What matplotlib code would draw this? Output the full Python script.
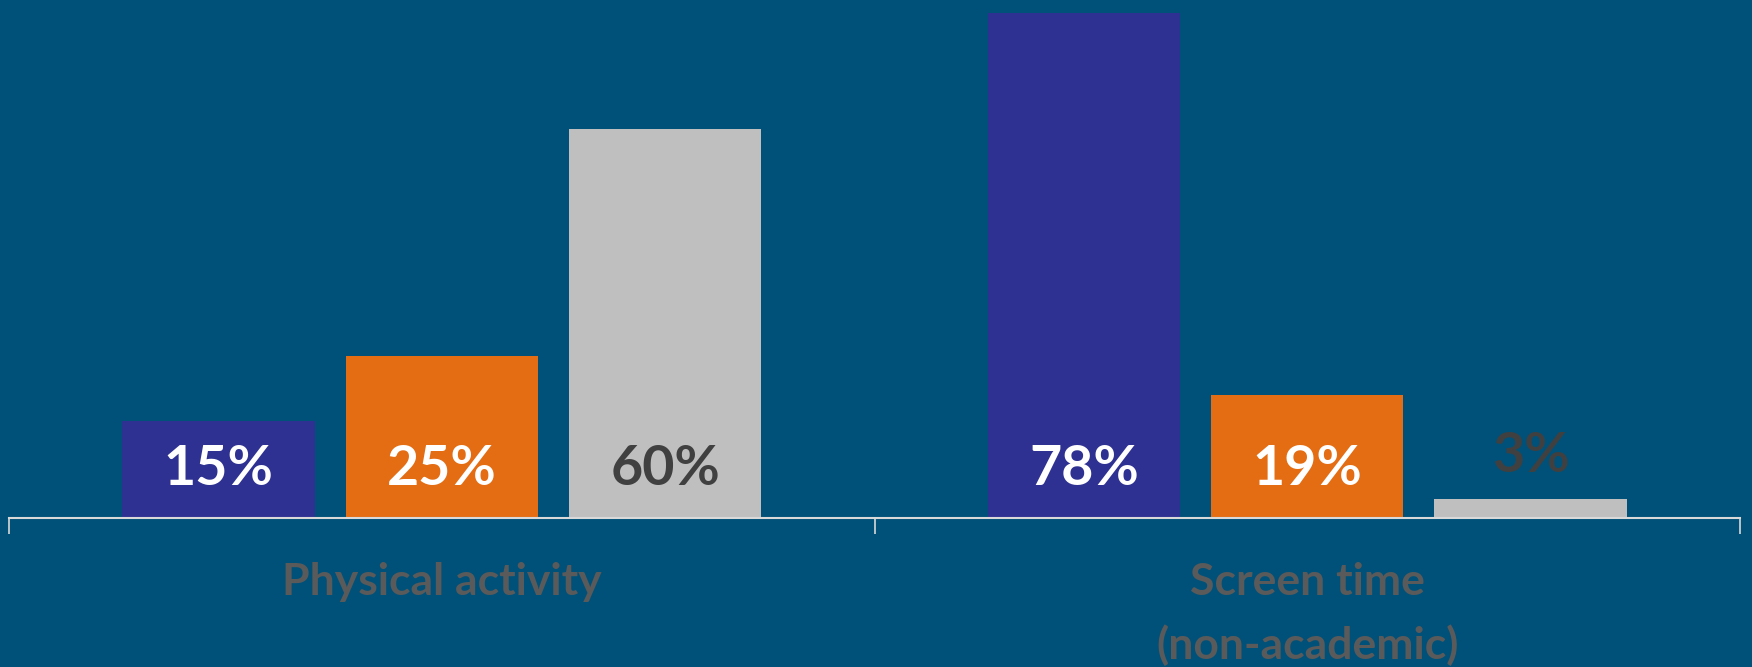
import numpy as np
import matplotlib.pyplot as plt

# data
categories = ["Physical activity", "Screen time\n(non-academic)"]
series_blue = [15, 78]
series_orange = [25, 19]
series_grey = [60, 3]

bg = "#005179"
colors = ["#2E3192", "#E46C12", "#BFBFBF"]
label_colors = ["white", "white", "#404040"]

fig = plt.figure(figsize=(17.52, 6.67), dpi=100)
fig.patch.set_facecolor(bg)
ax = fig.add_axes([9 / 1752, 149 / 667, 1731 / 1752, 518 / 667])
ax.set_facecolor(bg)

x = np.arange(len(categories))
width = 0.222
step = 0.258

for i, (vals, col, lcol) in enumerate(zip([series_blue, series_orange, series_grey],
                                          colors, label_colors)):
    pos = x + (i - 1) * step
    ax.bar(pos, vals, width=width, color=col, zorder=2)
    for xp, v in zip(pos, vals):
        if v < 5:
            # small bar: label sits above it
            ax.annotate(f"{v}%", (xp, v), xytext=(0, 31), textcoords="offset points",
                        ha="center", va="center", fontsize=40, fontweight="bold",
                        family="Lato", color=lcol)
        else:
            ax.annotate(f"{v}%", (xp, 0), xytext=(0, 35), textcoords="offset points",
                        ha="center", va="center", fontsize=40, fontweight="bold",
                        family="Lato", color=lcol)

ax.set_xlim(-0.5, 1.5)
ax.set_ylim(0, 80.0)

for s in ["top", "right", "left"]:
    ax.spines[s].set_visible(False)
ax.spines["bottom"].set_color("#D9D9D9")
ax.spines["bottom"].set_linewidth(1.5)
ax.spines["bottom"].set_zorder(3)
ax.set_yticks([])

ax.set_xticks(x)
ax.set_xticklabels(categories, fontsize=32, fontweight="bold", family="Lato",
                   color="#5A5A5A", linespacing=1.62)
ax.tick_params(axis="x", which="major", length=0, pad=32)
ax.set_xticks([-0.5, 0.5, 1.5], minor=True)
ax.tick_params(axis="x", which="minor", length=11.5, width=1.2, color="#D9D9D9")

fig.savefig("out.png", dpi=100, facecolor=bg)
